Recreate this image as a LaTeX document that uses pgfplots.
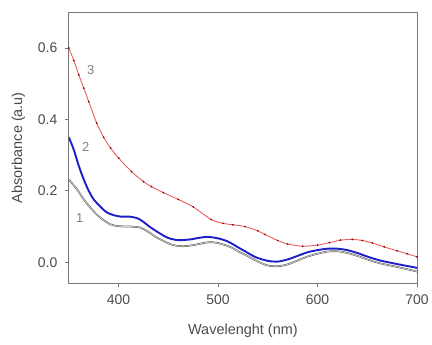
\documentclass[border=0pt]{standalone}
\usepackage{pgfplots}
\pgfplotsset{compat=1.18}
\usepackage{fontspec}
\setmainfont{Liberation Sans}
\definecolor{redc}{RGB}{232,95,95}
\definecolor{bluec}{RGB}{30,30,200}
\definecolor{grayc}{RGB}{90,90,90}
\definecolor{framec}{RGB}{120,120,120}
\definecolor{txtc}{RGB}{75,75,75}
\begin{document}
\begin{tikzpicture}
\begin{axis}[
  name=ax,
  scale only axis,
  width=349pt, height=272pt,
  xmin=350, xmax=700, ymin=-0.059, ymax=0.701,
  xtick={400,500,600,700},
  ytick={0,0.2,0.4,0.6},
  yticklabel style={/pgf/number format/fixed,/pgf/number format/fixed zerofill,/pgf/number format/precision=1, xshift=-4pt},
  xticklabel style={yshift=-4pt},
  /pgf/number format/assume math mode=true,
  tick align=outside,
  major tick length=4pt,
  xtick pos=bottom, ytick pos=left,
  axis line style={framec, line width=0.9pt},
  tick style={framec, line width=0.8pt},
  ticklabel style={font=\fontsize{14}{16}\selectfont, text=txtc},
  label style={font=\fontsize{14.5}{16}\selectfont, text=txtc},
  xlabel={Wavelenght (nm)},
  ylabel={Absorbance (a.u)},
  xlabel style={yshift=-12pt},
  ylabel style={yshift=6pt},
  clip=true,
]
% curve 3 (red)
\addplot[redc, line width=0.9pt, smooth, mark=*, mark size=0.35pt, mark options={fill=red!55!black, draw=red!55!black}] coordinates {
(350,0.600) (355,0.565) (360,0.525) (365,0.488) (370,0.450) (378,0.390)
(385,0.350) (392,0.320) (400,0.292) (413,0.254) (425,0.226) (433,0.212)
(445,0.195) (460,0.176) (475,0.155) (493,0.120) (505,0.109) (515,0.105)
(527,0.100) (540,0.088) (547,0.078) (560,0.061) (570,0.051) (585,0.045)
(600,0.048) (612,0.055) (623,0.062) (635,0.064) (645,0.061) (655,0.054)
(667,0.043) (680,0.032) (690,0.024) (700,0.015)
};
% curve 1 (gray)
\addplot[grayc, line width=0.5pt, double=gray!35, double distance=0.7pt, smooth] coordinates {
(350,0.232) (358,0.205) (365,0.176) (372,0.152) (378,0.134) (385,0.118)
(392,0.106) (400,0.101) (412,0.100) (422,0.097) (430,0.085) (438,0.070)
(447,0.057) (455,0.048) (465,0.045) (475,0.048) (490,0.056) (500,0.054)
(513,0.042) (522,0.028) (530,0.017) (540,0.002) (550,-0.009) (560,-0.011)
(570,-0.006) (580,0.005) (590,0.016) (600,0.024) (610,0.030) (620,0.031)
(630,0.026) (640,0.018) (650,0.008) (663,-0.003) (680,-0.013) (697,-0.024)
(700,-0.026)
};
% curve 2 (blue)
\addplot[bluec, line width=1.9pt, smooth] coordinates {
(350,0.350) (355,0.315) (360,0.270) (365,0.232) (370,0.200) (375,0.176)
(382,0.155) (388,0.140) (395,0.132) (402,0.128) (410,0.128) (415,0.126)
(420,0.122) (425,0.113) (432,0.098) (442,0.080) (450,0.068) (460,0.062)
(472,0.064) (482,0.069) (490,0.071) (500,0.067) (510,0.058) (520,0.042)
(527,0.031) (538,0.014) (550,0.004) (560,0.002) (570,0.008) (580,0.018)
(590,0.028) (600,0.034) (610,0.038) (620,0.038) (630,0.034) (640,0.026)
(650,0.016) (663,0.005) (680,-0.005) (697,-0.014) (700,-0.016)
};
\node[text=gray, font=\fontsize{13}{14}\selectfont] at (axis cs:372,0.539) {3};
\node[text=gray, font=\fontsize{13}{14}\selectfont] at (axis cs:367,0.324) {2};
\node[text=gray, font=\fontsize{13}{14}\selectfont] at (axis cs:361,0.123) {1};
\end{axis}
\path (ax.south west) ++(-69pt,-61pt) rectangle +(432pt,345pt);
\end{tikzpicture}
\end{document}
